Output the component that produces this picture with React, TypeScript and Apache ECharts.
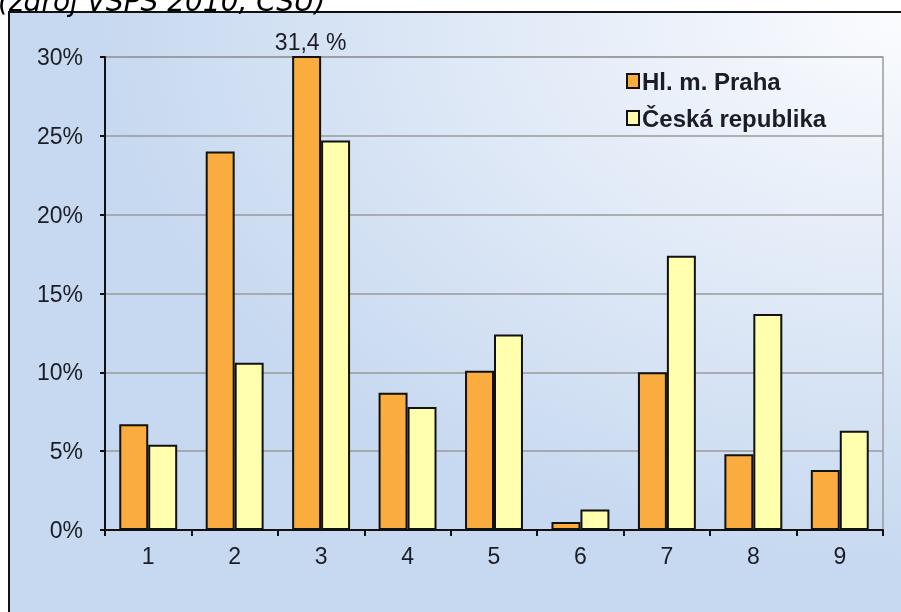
import React, { useEffect, useRef } from "react";
import * as echarts from "echarts";

const categories = ["1", "2", "3", "4", "5", "6", "7", "8", "9"];
const prahaValues = [6.7, 24.0, 31.4, 8.7, 10.1, 0.5, 10.0, 4.8, 3.8];
const crValues = [5.4, 10.6, 24.7, 7.8, 12.4, 1.3, 17.4, 13.7, 6.3];
const seriesNames = ["Hl. m. Praha", "Česká republika"];
const sourceText = "(zdroj VŠPS 2010, ČSÚ)";
const overflowLabel = "31,4 %";

const FONT = "'Liberation Sans', Arial, sans-serif";
const TEXT_COLOR = "#1c1c24";

export default function App() {
  const ref = useRef<HTMLDivElement>(null);

  useEffect(() => {
    if (!ref.current) return;
    const chart = echarts.init(ref.current, undefined, { renderer: "svg" });
    const yMax = 30;
    const prahaData = prahaValues.map((v) =>
      v > yMax
        ? {
            value: v,
            label: {
              show: true,
              position: "top",
              distance: 3,
              offset: [4, 0],
              formatter: overflowLabel,
              fontSize: 23,
              fontFamily: FONT,
              color: TEXT_COLOR,
            },
          }
        : v
    );
    chart.setOption({
      animation: false,
      graphic: [
        {
          type: "text",
          z: 1,
          style: {
            text: sourceText,
            x: -2,
            y: 15,
            fontSize: 28,
            fontStyle: "italic",
            fontFamily: "'DejaVu Sans', Verdana, sans-serif",
            fill: "#000",
            verticalAlign: "bottom",
          },
        },
        {
          type: "rect",
          z: -10,
          silent: true,
          shape: { x: 9, y: 12, width: 900, height: 610 },
          style: {
            fill: new echarts.graphic.RadialGradient(1, 0, 0.9, [
              { offset: 0, color: "#FBFCFE" },
              { offset: 0.45, color: "#E4ECF8" },
              { offset: 1, color: "#C7D9F0" },
            ]),
            stroke: "#111",
            lineWidth: 2,
          },
        },
      ],
      grid: {
        left: 105,
        right: 18,
        top: 57,
        bottom: 82,
        show: true,
        borderColor: "#9a9a9a",
        borderWidth: 1.5,
        backgroundColor: "transparent",
      },
      legend: {
        orient: "vertical",
        left: 621,
        top: 64,
        itemWidth: 12,
        itemHeight: 14,
        itemGap: 13,
        icon: "rect",
        textStyle: {
          fontSize: 24,
          fontWeight: "bold",
          fontFamily: FONT,
          color: TEXT_COLOR,
          padding: [0, 0, 0, -2],
        },
        data: seriesNames,
      },
      xAxis: {
        type: "category",
        data: categories,
        axisLine: { show: true, lineStyle: { color: "#111", width: 2 } },
        axisTick: { show: true, length: 6, lineStyle: { color: "#111", width: 2 } },
        axisLabel: {
          fontSize: 23,
          fontFamily: FONT,
          color: TEXT_COLOR,
          margin: 14,
        },
      },
      yAxis: {
        type: "value",
        min: 0,
        max: yMax,
        interval: 5,
        axisLine: { show: true, lineStyle: { color: "#111", width: 2 } },
        axisTick: { show: true, length: 5, lineStyle: { color: "#111", width: 2 } },
        axisLabel: {
          formatter: "{value}%",
          fontSize: 23,
          fontFamily: FONT,
          color: TEXT_COLOR,
          margin: 22,
        },
        splitLine: { show: true, lineStyle: { color: "#9a9a9a", width: 1.5 } },
      },
      series: [
        {
          name: seriesNames[0],
          type: "bar",
          data: prahaData,
          barGap: "0%",
          barCategoryGap: "33%",
          clip: true,
          itemStyle: { color: "#FAAD3E", borderColor: "#111", borderWidth: 2 },
        },
        {
          name: seriesNames[1],
          type: "bar",
          data: crValues,
          barGap: "0%",
          barCategoryGap: "33%",
          clip: true,
          itemStyle: { color: "#FFFFAE", borderColor: "#111", borderWidth: 2 },
        },
      ],
    });
    return () => chart.dispose();
  }, []);

  return (
    <div
      ref={ref}
      style={{ position: "fixed", left: 0, top: 0, width: 901, height: 612 }}
    />
  );
}
